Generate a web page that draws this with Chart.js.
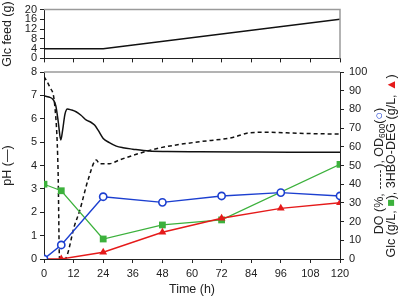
<!DOCTYPE html>
<html>
<head>
<meta charset="utf-8">
<script src="https://cdn.jsdelivr.net/npm/chart.js@4"></script>
<style>
  body { margin: 0; background: #fff; }
  #wrap { position: relative; width: 400px; height: 297px; }
  .box { position: absolute; left: 0; width: 400px; }
</style>
</head>
<body>
<div id="wrap">
  <div class="box" style="top:0;height:68px"><canvas id="feed"></canvas></div>
  <div class="box" style="top:60px;height:237px"><canvas id="main"></canvas></div>
</div>
<script>
// top panel: glucose feed
const feedTime = [0, 24, 120];
const feedGlc = [4, 4, 16];
const feedTicks = [0, 4, 8, 12, 16, 20];

// bottom panel
const timeTicks = [0, 12, 24, 36, 48, 60, 72, 84, 96, 108, 120];
const phTime = [0, 2, 3.7, 4.8, 5.8, 6.8, 7.6, 8.5, 9.5, 11, 13, 15, 17.2, 19, 20.5, 22, 24, 26.5, 29.3, 32, 36, 42.6, 50, 63, 80, 100, 120];
const phValue = [6.98, 6.93, 6.82, 6.55, 5.85, 5.09, 5.55, 6.2, 6.42, 6.38, 6.3, 6.15, 5.94, 5.85, 5.73, 5.5, 5.16, 4.98, 4.83, 4.76, 4.7, 4.62, 4.6, 4.59, 4.58, 4.57, 4.57];
const doTime = [0, 2.3, 4.4, 5.7, 6.3, 8.4, 12.4, 14.5, 17.8, 21.2, 22.5, 26.6, 30.6, 38.7, 45.5, 53.6, 63, 76.5, 83.2, 90, 103.5, 120];
const doValue = [97.5, 92, 81.5, 47.5, 0, 0, 18, 26, 42, 53, 51, 51, 53, 56.5, 59, 61, 62.7, 65, 67.5, 67.8, 67.2, 66.8];
const odTime = [0, 7, 24, 48, 72, 96, 120];
const odValue = [0, 7.5, 33.3, 30.3, 33.7, 35.5, 33.7];
const glcTime = [0, 7, 24, 48, 72, 120];
const glcValue = [40, 36.5, 10.7, 18.2, 20.9, 50.6];
const hboTime = [0, 7, 24, 48, 72, 96, 120];
const hboValue = [0, 0, 3.6, 14.3, 21.8, 27.1, 30.1];

const FONT = '"Liberation Sans", Arial, "DejaVu Sans", sans-serif';
const BLUE = '#1c3fd0', GREEN = '#3cb13c', RED = '#e51a1a', INK = '#222';

function pts(xs, ys) { return xs.map((x, i) => ({ x: x, y: ys[i] })); }

// grey box edges on top / right of the plot area
const frame = {
  id: 'frame',
  afterDraw(chart, args, opts) {
    const a = chart.chartArea, ctx = chart.ctx;
    ctx.save();
    ctx.strokeStyle = '#9a9a9a';
    ctx.lineWidth = 1.5;
    ctx.beginPath();
    ctx.moveTo(a.left, a.top);
    ctx.lineTo(a.right, a.top);
    if (opts.right) ctx.lineTo(a.right, a.bottom);
    ctx.stroke();
    ctx.restore();
  }
};

Chart.defaults.font.family = FONT;
Chart.defaults.color = INK;

const tickGrid = { display: true, drawOnChartArea: false, drawTicks: true, tickLength: 4, color: INK };

new Chart(document.getElementById('feed'), {
  type: 'line',
  data: {
    datasets: [{
      data: pts(feedTime, feedGlc),
      borderColor: '#111', borderWidth: 1.5, pointRadius: 0, tension: 0
    }]
  },
  options: {
    responsive: true, maintainAspectRatio: false, animation: false,
    layout: { padding: { top: 9, right: 60, left: 0, bottom: 0 } },
    plugins: { legend: { display: false }, tooltip: { enabled: false }, frame: { right: true } },
    scales: {
      x: {
        type: 'linear', min: 0, max: 120,
        afterBuildTicks: s => { s.ticks = timeTicks.map(v => ({ value: v })); },
        ticks: { display: false },
        grid: tickGrid, border: { color: INK },
        afterFit: s => { s.height = 8; }
      },
      y: {
        min: 0, max: 20,
        afterBuildTicks: s => { s.ticks = feedTicks.map(v => ({ value: v })); },
        ticks: { autoSkip: false, font: { size: 11 }, padding: 3 },
        grid: tickGrid, border: { color: INK },
        title: { display: true, text: 'Glc feed (g)', font: { size: 12.5 }, padding: 0 },
        afterFit: s => { s.width = 44; }
      }
    }
  },
  plugins: [frame]
});

// rotated right-hand title with coloured symbols
const rightTitle = {
  id: 'rightTitle',
  afterDraw(chart) {
    const ctx = chart.ctx;
    const f = 12.5;
    const lines = [
      { x: 380, y: 111, parts: [
        { t: 'DO (%, ' }, { dash: 20 }, { t: '), OD' }, { t: '600', sub: true }, { t: '(' }, { t: '○', c: BLUE, bold: true }, { t: ')' }
      ] },
      { x: 392, y: 106, parts: [
        { t: 'Glc (g/L, ' }, { t: '■', c: GREEN }, { t: '), 3HBO-DEG (g/L, ' }, { t: '▲', c: RED }, { t: ')' }
      ] }
    ];
    ctx.save();
    ctx.textBaseline = 'middle';
    lines.forEach(line => {
      const fontOf = p => (p.bold ? 'bold ' : '') + (p.sub ? 8.5 : f) + 'px ' + FONT;
      let total = 0;
      line.parts.forEach(p => {
        if (p.dash) { p.w = p.dash + 2; }
        else { ctx.font = fontOf(p); p.w = ctx.measureText(p.t).width; }
        total += p.w;
      });
      ctx.save();
      ctx.translate(line.x, line.y);
      ctx.rotate(-Math.PI / 2);
      let u = -total / 2;
      line.parts.forEach(p => {
        if (p.dash) {
          ctx.strokeStyle = INK; ctx.lineWidth = 1; ctx.setLineDash([2.5, 1.5]);
          ctx.beginPath(); ctx.moveTo(u + 1, 0.5); ctx.lineTo(u + 1 + p.dash, 0.5); ctx.stroke();
          ctx.setLineDash([]);
        } else {
          ctx.font = fontOf(p);
          ctx.fillStyle = p.c || INK;
          ctx.fillText(p.t, u, p.sub ? 3 : 0);
        }
        u += p.w;
      });
      ctx.restore();
    });
    ctx.restore();
  }
};

new Chart(document.getElementById('main'), {
  type: 'line',
  data: {
    datasets: [
      { label: 'OD600', data: pts(odTime, odValue), yAxisID: 'y2', order: 0,
        borderColor: BLUE, borderWidth: 1.4, pointStyle: 'circle', pointRadius: 3.6,
        pointBackgroundColor: '#fff', pointBorderColor: BLUE, pointBorderWidth: 1.6, tension: 0 },
      { label: '3HBO-DEG', data: pts(hboTime, hboValue), yAxisID: 'y2', order: 1,
        borderColor: RED, borderWidth: 1.4, pointStyle: 'triangle', pointRadius: 4.5,
        pointBackgroundColor: RED, pointBorderColor: RED, pointBorderWidth: 0, tension: 0 },
      { label: 'Glc', data: pts(glcTime, glcValue), yAxisID: 'y2', order: 2,
        borderColor: GREEN, borderWidth: 1.2, pointStyle: 'rect', pointRadius: 4.8,
        pointBackgroundColor: GREEN, pointBorderColor: GREEN, pointBorderWidth: 0, tension: 0 },
      { label: 'pH', data: pts(phTime, phValue), yAxisID: 'y', order: 3,
        borderColor: '#111', borderWidth: 1.5, pointRadius: 0, cubicInterpolationMode: 'monotone' },
      { label: 'DO', data: pts(doTime, doValue), yAxisID: 'y2', order: 4,
        borderColor: '#111', borderWidth: 1.5, borderDash: [4, 3], pointRadius: 0, cubicInterpolationMode: 'monotone' }
    ]
  },
  options: {
    responsive: true, maintainAspectRatio: false, animation: false,
    layout: { padding: { top: 12, right: 0, left: 0, bottom: 0 } },
    plugins: { legend: { display: false }, tooltip: { enabled: false }, frame: { right: false } },
    scales: {
      x: {
        type: 'linear', min: 0, max: 120,
        afterBuildTicks: s => { s.ticks = timeTicks.map(v => ({ value: v })); },
        ticks: { autoSkip: false, maxRotation: 0, font: { size: 11 }, padding: 4 },
        grid: tickGrid, border: { color: INK },
        title: { display: true, text: 'Time (h)', font: { size: 12.5 }, padding: { top: 3, bottom: 0 } },
        afterFit: s => { s.height = 38; }
      },
      y: {
        position: 'left', min: 0, max: 8,
        ticks: { stepSize: 1, autoSkip: false, font: { size: 11 }, padding: 3 },
        grid: tickGrid, border: { color: INK },
        title: { display: true, text: 'pH (—)', font: { size: 12.5 }, padding: 0 },
        afterFit: s => { s.width = 44; }
      },
      y2: {
        position: 'right', min: 0, max: 100,
        ticks: { stepSize: 10, autoSkip: false, font: { size: 11 }, padding: 5 },
        grid: tickGrid, border: { color: INK },
        afterFit: s => { s.width = 60; }
      }
    }
  },
  plugins: [frame, rightTitle]
});
</script>
</body>
</html>
